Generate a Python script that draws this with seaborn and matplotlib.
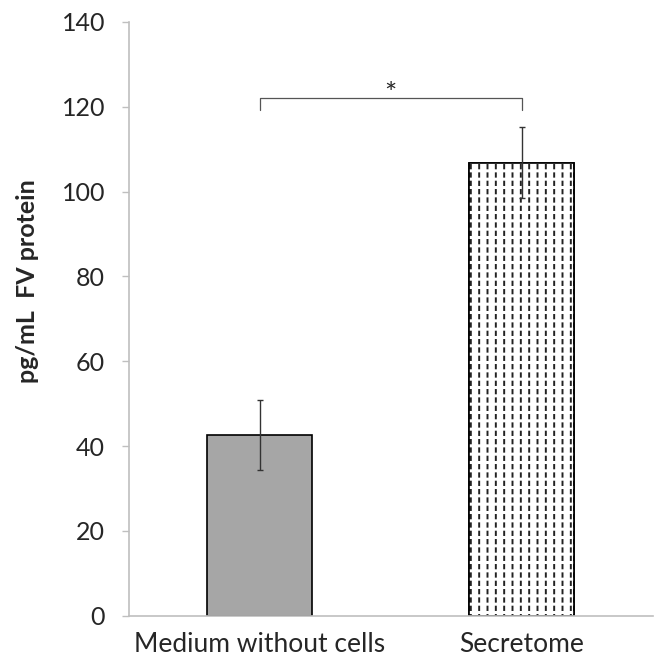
import matplotlib
matplotlib.use("Agg")
import matplotlib.pyplot as plt
import seaborn as sns
import pandas as pd

# data
groups = ["Medium without cells", "Secretome"]
means = [42.6, 106.8]
errors = [8.2, 8.4]
yticks = [0, 20, 40, 60, 80, 100, 120, 140]

df = pd.DataFrame({"group": groups, "value": means})

sns.set_style("white")
plt.rcParams["font.family"] = ["Lato", "DejaVu Sans"]

fig = plt.figure(figsize=(6.6, 6.65), dpi=100)
ax = fig.add_axes([0.195, 0.074, 0.794, 0.893])

sns.barplot(data=df, x="group", y="value", ax=ax, width=0.4,
            color="#a6a6a6", edgecolor="black", linewidth=1.2,
            errorbar=None, saturation=1)

# secretome bar: white with dashed vertical lines
bar2 = ax.patches[1]
bar2.set_facecolor("white")
bx, bw, bh = bar2.get_x(), bar2.get_width(), bar2.get_height()
with plt.rc_context({"hatch.linewidth": 1.4}):
    ax.bar(bx, bh, width=bw, align="edge", facecolor="none",
           edgecolor="#222222", hatch="||", linewidth=0, zorder=2.1)
with plt.rc_context({"hatch.linewidth": 2.2}):
    ax.bar(bx, bh, width=bw, align="edge", facecolor="none",
           edgecolor="white", hatch="--", linewidth=0, zorder=2.2)
ax.bar(bx, bh, width=bw, align="edge", facecolor="none",
       edgecolor="black", linewidth=1.2, zorder=2.3)

ax.errorbar(range(len(groups)), means, yerr=errors, fmt="none",
            ecolor="#333333", elinewidth=1, capsize=2.5, capthick=1, zorder=3)

# significance bracket
ax.plot([0, 0, 1, 1], [119.3, 122, 122, 119.3], color="#555555", lw=0.9)
ax.text(0.5, 121.0, "*", ha="center", va="baseline", fontsize=21)

ax.set_ylim(0, 140)
ax.set_xlim(-0.5, 1.5)
ax.set_yticks(yticks)
ax.set_xlabel("")
ax.set_ylabel("pg/mL  FV protein", fontsize=18, fontweight="bold")
ax.yaxis.set_label_coords(-0.172, 0.564)
ax.tick_params(axis="y", labelsize=18, length=5, width=1, color="#bfbfbf",
               direction="out", left=True, pad=12)
ax.tick_params(axis="x", labelsize=19, length=0, pad=12)
sns.despine(ax=ax)
for s in ["left", "bottom"]:
    ax.spines[s].set_color("#bfbfbf")
    ax.spines[s].set_linewidth(1.2)

fig.savefig("out.png", dpi=100)
